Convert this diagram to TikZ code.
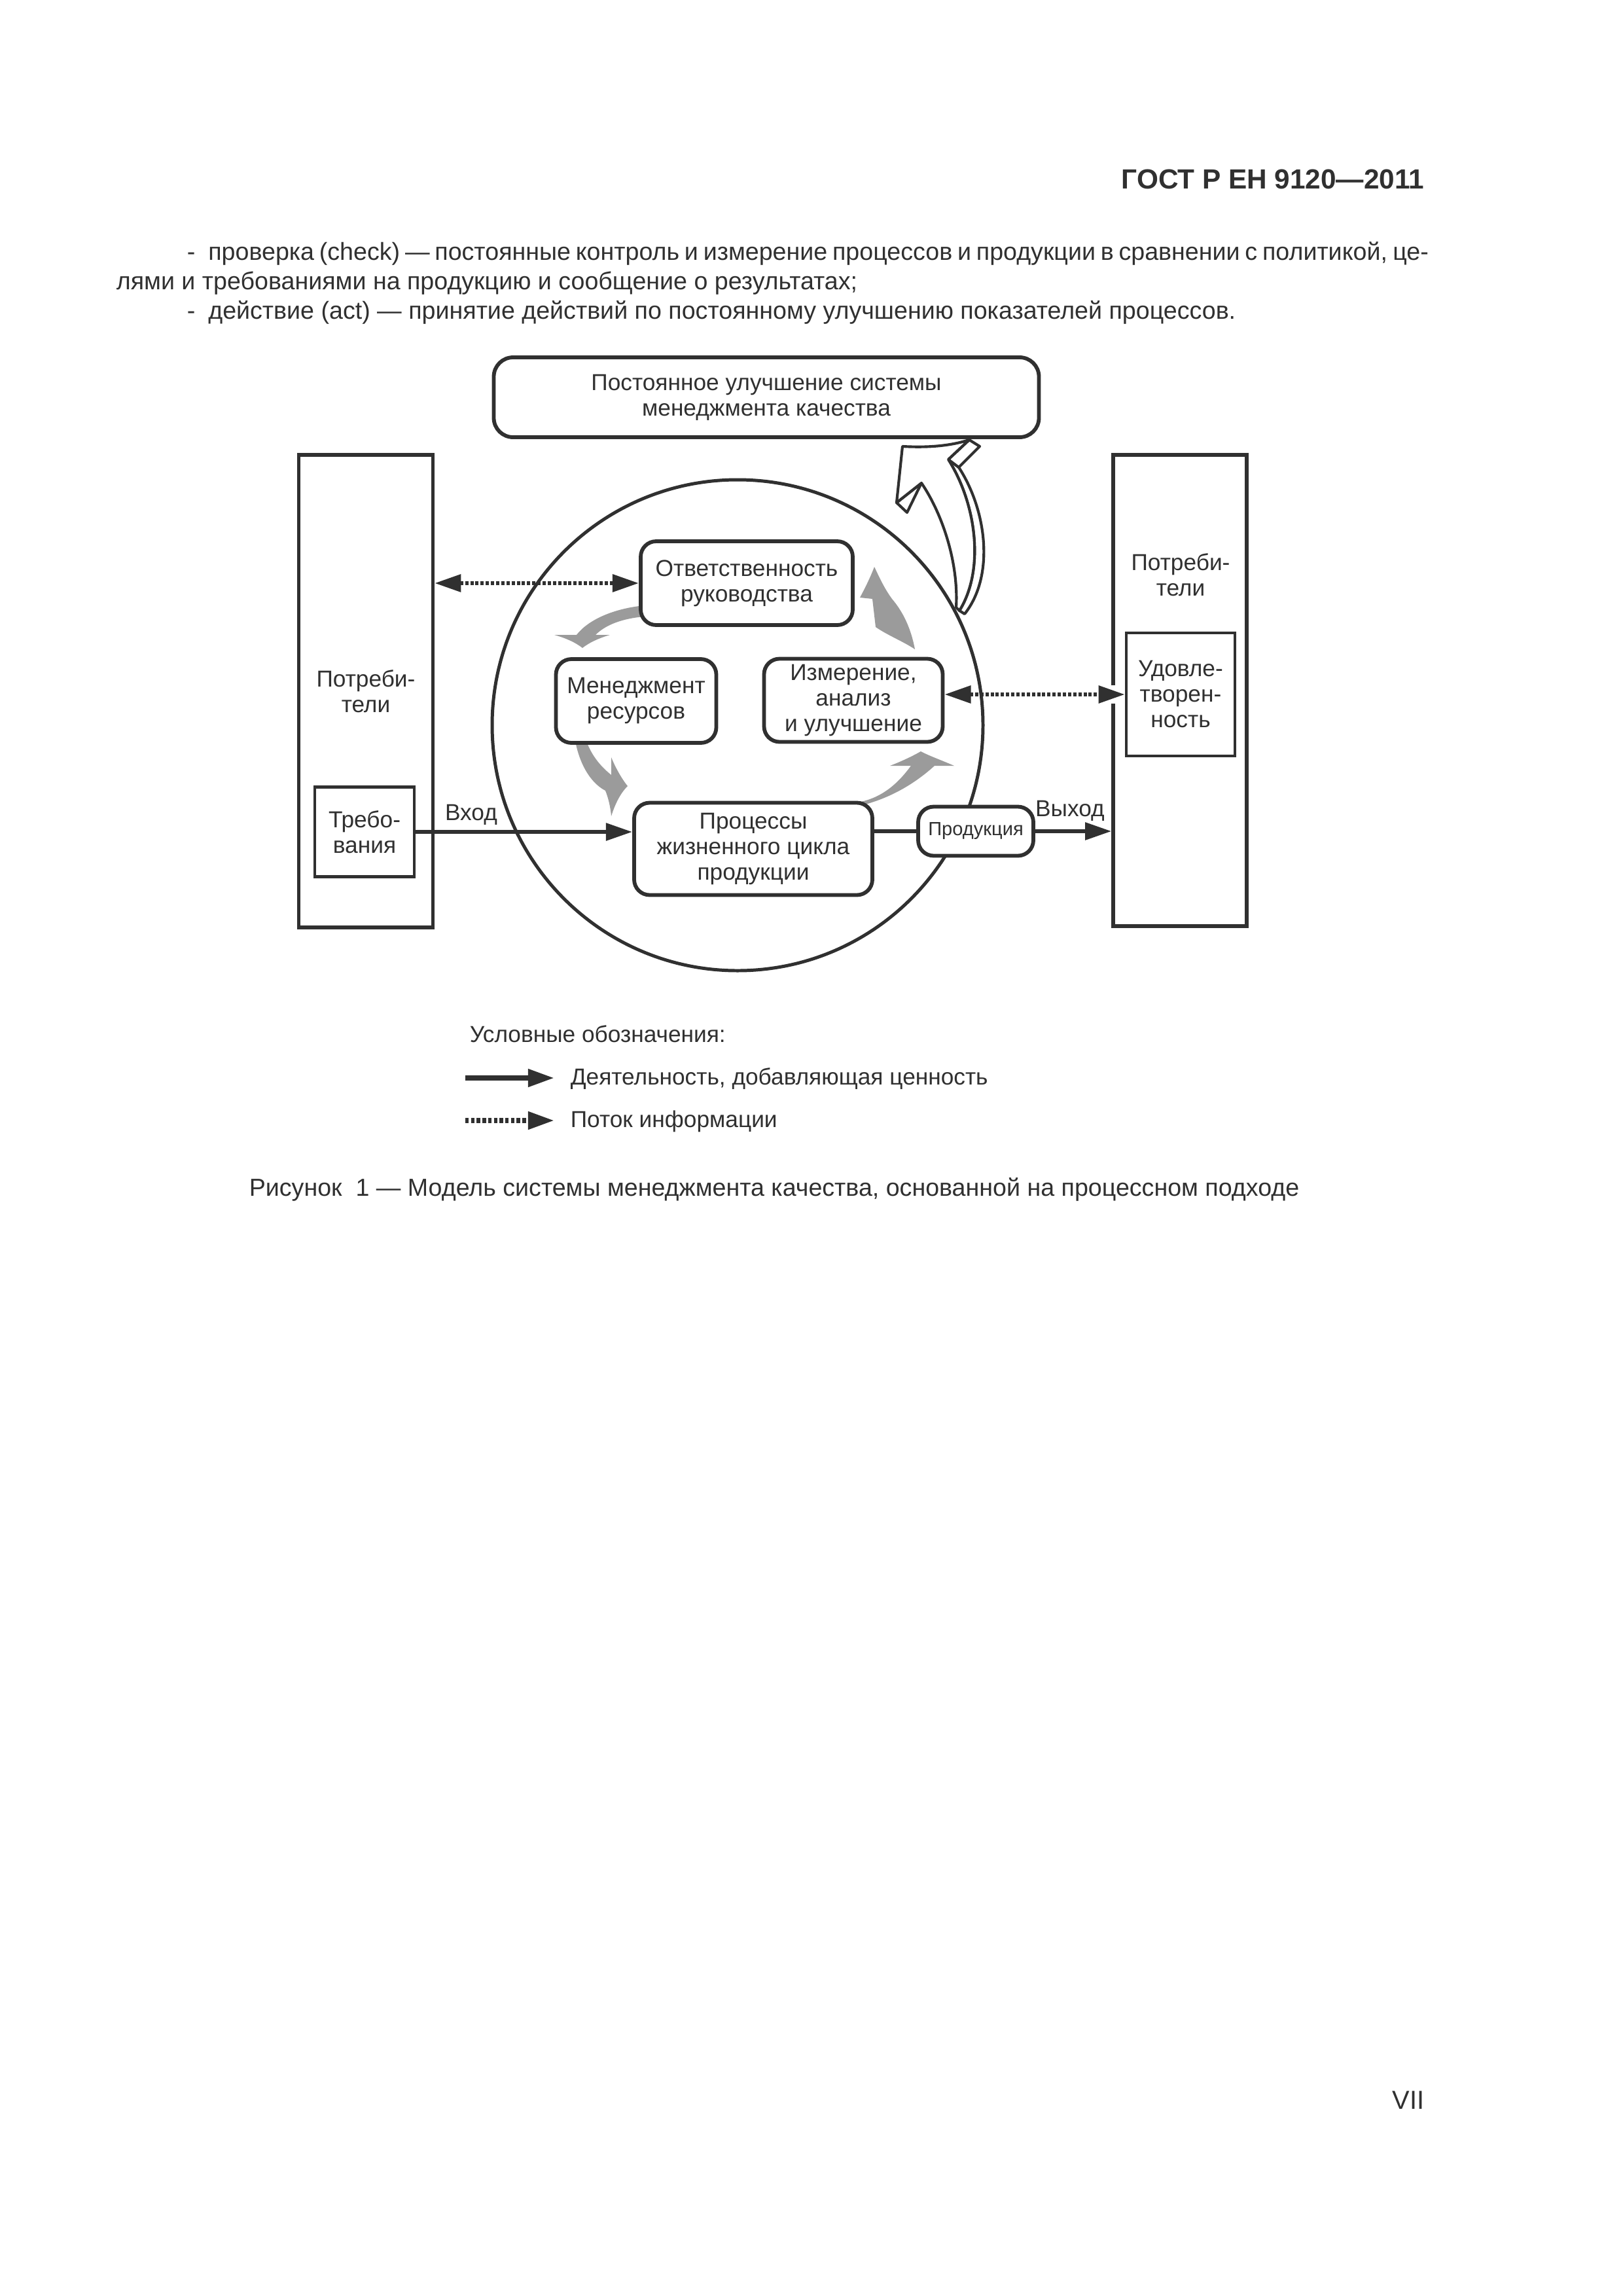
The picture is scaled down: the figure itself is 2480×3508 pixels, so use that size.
\documentclass[tikz,border=0pt]{standalone}
\usepackage{fontspec}
\setmainfont{Liberation Sans}
\usetikzlibrary{arrows.meta}
\definecolor{ink}{RGB}{48,48,48}
\definecolor{grau}{RGB}{155,155,155}
\newdimen\px \px=0.0846774mm
\newcommand{\diagfont}{\fontsize{8.5}{9.4}\selectfont}
\newcommand{\bodyfont}{\fontsize{9.06}{11}\selectfont}
\newcommand{\smallfont}{\fontsize{7}{8}\selectfont}
\begin{document}
\begin{tikzpicture}[x=\px, y=-\px,
	rbox/.style={draw=ink, line width=1.4pt, rounded corners=2mm, fill=white, text=ink, align=center, inner sep=0pt, font=\diagfont},
	sqbox/.style={draw=ink, line width=1.3pt, fill=white, text=ink, align=center, inner sep=0pt, font=\diagfont},
	lbl/.style={text=ink, inner sep=0pt, font=\diagfont},
	textline/.style={text=ink, inner sep=0pt, anchor=base west, font=\bodyfont},
	flow/.style={draw=ink, line width=1.4pt},
	info/.style={draw=ink, line width=1.5pt, dash pattern=on 1.2pt off 0.7pt},
	onehead/.style={-{Triangle[length=3.4mm,width=2.2mm]}},
	twohead/.style={{Triangle[length=3.4mm,width=2.2mm]}-{Triangle[length=3.4mm,width=2.2mm]}},
	grayarrow/.style={fill=grau},
	hollow/.style={draw=ink, fill=white, line width=1pt, line join=round},
	]
	\useasboundingbox (0,0) rectangle (2480,3508);
	%% 页眉和正文
	\node[anchor=base east, inner sep=0pt, text=ink, font=\fontsize{10.2}{12}\bfseries] (gost) at (2177,288) {ГОСТ Р ЕН 9120—2011};
	\node[textline] (t1) at (285,397) {\makebox[1897\px][s]{-\hspace{20\px}проверка (check) — постоянные контроль и измерение процессов и продукции в сравнении с политикой, це-}};
	\node[textline] (t2) at (177,442) {лями и требованиями на продукцию и сообщение о результатах;};
	\node[textline] (t3) at (285,487) {-\hspace{20\px}действие (act) — принятие действий по постоянному улучшению показателей процессов.};
	%% 圆
	\node[draw=ink, line width=1.2pt, circle, minimum size=750\px, inner sep=0pt] (kr) at (1127,1108) {};
	% 灰色箭头
	\fill[grayarrow] (985,925) .. controls (935,930) and (898,948) .. (881,970) -- (847,970) .. controls (865,975) and (880,982) .. (890,990) .. controls (900,982) and (915,975) .. (932,970) -- (910,970) .. controls (925,955) and (950,945) .. (985,942) -- cycle;
	\fill[grayarrow] (876,1110) .. controls (880,1160) and (900,1195) .. (925,1208) .. controls (930,1220) and (933,1235) .. (934,1247) .. controls (940,1228) and (948,1212) .. (959,1201) .. controls (950,1190) and (940,1172) .. (934,1157) -- (934,1184) .. controls (910,1165) and (895,1140) .. (890,1110) -- cycle;
	\fill[grayarrow] (1310,1232) .. controls (1355,1222) and (1395,1200) .. (1428,1170) -- (1458,1170) .. controls (1440,1162) and (1420,1155) .. (1407,1148) .. controls (1395,1155) and (1378,1163) .. (1360,1170) -- (1392,1170) .. controls (1370,1200) and (1345,1220) .. (1310,1226) -- cycle;
	\fill[grayarrow] (1336,866) .. controls (1345,885) and (1352,900) .. (1363,915) .. controls (1380,935) and (1392,960) .. (1398,992) .. controls (1380,980) and (1355,970) .. (1338,958) -- (1333,915) -- (1314,913) .. controls (1322,898) and (1330,882) .. (1336,866) -- cycle;
	% 白色箭头
	\draw[hollow] (1449,702) -- (1465,714) .. controls (1508,780) and (1520,880) .. (1474,938) -- (1466,933) .. controls (1505,870) and (1492,770) .. (1449,702) -- cycle;
	\draw[hollow] (1449,702) -- (1481,672) -- (1497,682) -- (1465,714) -- cycle;
	\draw[hollow] (1370,768) -- (1386,783) -- (1408,738) -- cycle;
	\draw[hollow] (1379,682) .. controls (1415,684) and (1450,682) .. (1481,672) -- (1449,702) .. controls (1492,770) and (1505,870) .. (1466,933) -- (1461,928) .. controls (1465,860) and (1440,785) .. (1408,738) -- (1370,768) -- cycle;
	%% 方框
	\node[rbox, rounded corners=2.5mm, minimum width=833\px, minimum height=122\px] (imp) at (1171,607) {Постоянное улучшение системы\\менеджмента качества};
	\node[rbox, minimum width=324\px, minimum height=128\px] (otv) at (1141,891) {Ответственность\\руководства};
	\node[rbox, minimum width=245\px, minimum height=128\px] (men) at (972,1071) {Менеджмент\\ресурсов};
	\node[rbox, minimum width=273\px, minimum height=127\px] (izm) at (1304,1070) {Измерение,\\анализ\\и улучшение};
	\node[rbox, minimum width=364\px, minimum height=141\px] (proc) at (1151,1297) {Процессы\\жизненного цикла\\продукции};
	\node[rbox, minimum width=176\px, minimum height=75\px, font=\smallfont] (prod) at (1491,1270) {Продукция};
	\node[sqbox, minimum width=205\px, minimum height=722\px] (cons1) at (559,1056) {Потреби-\\тели};
	\node[sqbox, line width=1.1pt, minimum width=152\px, minimum height=137\px] (req) at (557,1271) {Требо-\\вания};
	\node[sqbox, minimum width=204\px, minimum height=720\px] (cons2) at (1803,1055) {};
	\node[lbl, align=center] (cons2t) at (1804,878) {Потреби-\\тели};
	\node[sqbox, line width=1.1pt, minimum width=166\px, minimum height=188\px] (sat) at (1804,1061) {Удовле-\\творен-\\ность};
	% 连线
	\draw[flow, onehead] (req.east) -- node[lbl, pos=0.256, anchor=base, yshift=18\px] (vh) {Вход} (req.east -| proc.west);
	\draw[flow] (proc.east |- prod.west) -- (prod.west);
	\draw[flow, onehead] (prod.east) -- node[lbl, pos=0.455, anchor=base, yshift=23\px] (vyh) {Выход} (prod.east -| cons2.west);
	\draw[info, twohead] (cons1.east |- otv.west) -- (otv.west);
	\coordinate (kn) at (cons2.west |- sat.west);
	\fill[white] ([xshift=-6\px, yshift=-14\px]kn) rectangle ([xshift=6\px, yshift=14\px]kn);
	\draw[info, twohead] (izm.east |- sat.west) -- (sat.west);
	%% 图例
	\node[textline, font=\diagfont] (leg) at (717,1592) {Условные обозначения:};
	\coordinate (l1a) at (711,1647);
	\coordinate (l1b) at (847,1647);
	\draw[flow, onehead, line width=1.9pt] (l1a) -- (l1b);
	\node[textline, font=\diagfont] (leg1) at (871,1657) {Деятельность, добавляющая ценность};
	\coordinate (l2a) at (711,1712);
	\coordinate (l2b) at (847,1712);
	\draw[info, onehead, line width=1.9pt, dash pattern=on 1.3pt off 0.8pt] (l2a) -- (l2b);
	\node[textline, font=\diagfont] (leg2) at (871,1722) {Поток информации};
	%% 图名和页码
	\node[textline] (cap) at (380,1827) {Рисунок\ \ 1 — Модель системы менеджмента качества, основанной на процессном подходе};
	\node[anchor=base east, inner sep=0pt, text=ink, font=\fontsize{9.6}{11}\selectfont] (pg) at (2177,3222) {VII};
\end{tikzpicture}
\end{document}
